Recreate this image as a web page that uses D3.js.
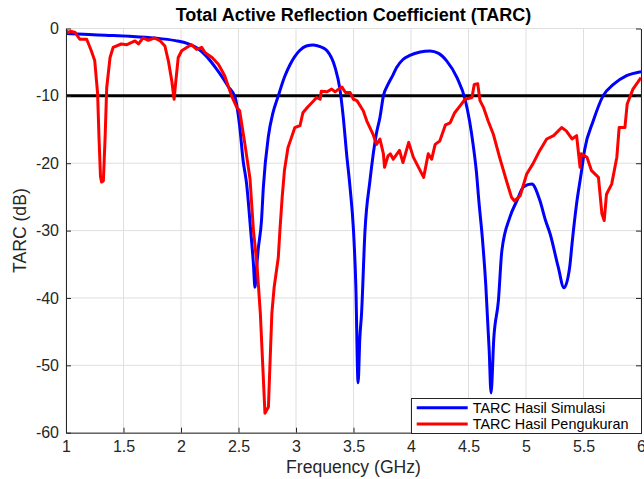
<!DOCTYPE html>
<html>
<head>
<meta charset="utf-8">
<script src="https://cdn.jsdelivr.net/npm/d3@7"></script>
<style>
  html, body { margin: 0; padding: 0; background: #fff; }
  svg { display: block; font-family: "Liberation Sans", Arial, sans-serif; }
</style>
</head>
<body>
<div id="chart"></div>
<script>
// ---------- DATA ----------
const chartTitle = "Total Active Reflection Coefficient (TARC)";
const xLabel = "Frequency (GHz)";
const yLabel = "TARC (dB)";
const seriesNames = ["TARC Hasil Simulasi", "TARC Hasil Pengukuran"];
const xTicks = [1, 1.5, 2, 2.5, 3, 3.5, 4, 4.5, 5, 5.5, 6];
const xTickLabels = ["1", "1.5", "2", "2.5", "3", "3.5", "4", "4.5", "5", "5.5", "6"];
const yTicks = [0, -10, -20, -30, -40, -50, -60];
const yTickLabels = ["0", "-10", "-20", "-30", "-40", "-50", "-60"];
const refLevel = -10;

// Simulation (blue)
const simFreq = [1.00, 1.20, 1.34, 1.55, 1.77, 1.95, 2.06, 2.15, 2.22, 2.30, 2.35, 2.41, 2.47, 2.51, 2.54, 2.57,
  2.606, 2.63, 2.643, 2.655, 2.67, 2.70, 2.716, 2.76, 2.80, 2.846, 2.90, 2.95, 3.03, 3.09, 3.15, 3.21, 3.27,
  3.34, 3.38, 3.41, 3.44, 3.47, 3.50, 3.52, 3.54, 3.555, 3.57, 3.60, 3.643, 3.70, 3.73, 3.76, 3.80, 3.846,
  3.875, 3.93, 3.99, 4.08, 4.165, 4.24, 4.31, 4.40, 4.47, 4.51, 4.54, 4.57, 4.59, 4.62, 4.65, 4.68, 4.696,
  4.72, 4.76, 4.79, 4.86, 4.92, 4.98, 5.05, 5.12, 5.17, 5.21, 5.28, 5.33, 5.38, 5.40, 5.44, 5.48, 5.51,
  5.585, 5.67, 5.76, 5.875, 6.00];
const simTarc = [-0.75, -0.9, -1.0, -1.15, -1.4, -1.8, -2.25, -3.0, -4.1, -5.8, -7.0, -8.6, -10.2, -14.5, -19.6, -23.0,
  -30, -35, -38.4, -36, -33, -28.5, -23.6, -16, -12.5, -10, -7.2, -5.3, -3.3, -2.6, -2.45, -2.7, -3.3,
  -5.8, -8.8, -13, -18.6, -23.6, -30, -38, -52.6, -46, -42.3, -30, -22.6, -15.5, -13.2, -10, -8.3, -6.8,
  -5.8, -4.6, -4.0, -3.5, -3.35, -3.7, -4.8, -7.3, -10.5, -13.8, -17.2, -21.5, -25.6, -31, -38, -47.8, -54.1,
  -46, -40.4, -33, -28, -25.6, -23.5, -23.1, -25.5, -28.5, -30.5, -35.4, -38.5, -35.4, -32, -26, -21.5, -18,
  -13.7, -10, -8.3, -7.0, -6.4];

// Measurement (red)
const measFreq = [1.00, 1.02, 1.04, 1.08, 1.12, 1.18, 1.22, 1.25, 1.275, 1.287, 1.30, 1.31, 1.325, 1.34, 1.354,
  1.383, 1.41, 1.48, 1.53, 1.60, 1.63, 1.67, 1.716, 1.77, 1.82, 1.86, 1.89, 1.92, 1.94, 1.955, 1.976, 2.006,
  2.06, 2.09, 2.136, 2.18, 2.21, 2.27, 2.325, 2.38, 2.44, 2.485, 2.51, 2.556, 2.60, 2.63, 2.66, 2.69, 2.71,
  2.73, 2.76, 2.774, 2.79, 2.81, 2.846, 2.86, 2.88, 2.90, 2.93, 2.96, 2.99, 3.035, 3.06, 3.10, 3.15, 3.18,
  3.21, 3.22, 3.27, 3.31, 3.34, 3.37, 3.40, 3.43, 3.47, 3.50, 3.53, 3.585, 3.615, 3.67, 3.70, 3.73, 3.76,
  3.77, 3.80, 3.82, 3.846, 3.90, 3.93, 3.98, 4.02, 4.11, 4.15, 4.18, 4.21, 4.25, 4.30, 4.34, 4.38, 4.43,
  4.47, 4.53, 4.55, 4.58, 4.60, 4.63, 4.67, 4.716, 4.77, 4.83, 4.875, 4.90, 4.95, 5.006, 5.06, 5.12, 5.18,
  5.24, 5.31, 5.35, 5.40, 5.44, 5.47, 5.48, 5.53, 5.57, 5.63, 5.66, 5.68, 5.70, 5.745, 5.79, 5.81, 5.86,
  5.88, 5.93, 6.00];
const measTarc = [-0.3, -0.6, -0.4, -0.6, -1.6, -1.6, -3.3, -4.8, -9.7, -16.2, -22, -22.8, -22.6, -16.2, -8.8,
  -4.3, -2.8, -2.3, -2.4, -1.85, -2.3, -1.4, -1.75, -1.4, -1.85, -2.6, -4.8, -7.8, -10.5, -7.8, -4.3, -3.3,
  -2.7, -2.4, -3.1, -2.8, -3.6, -4.3, -5.3, -7.0, -10.0, -11.7, -12.2, -17.2, -22.3, -30, -34.9, -42.3, -49.7,
  -57.1, -56.2, -49.7, -42.3, -38.4, -34.0, -30, -25, -21, -17.7, -16.2, -14.7, -14.4, -12.5, -11.7, -10.8, -10.25,
  -10.5, -9.3, -9.4, -9.0, -9.4, -9.0, -8.7, -9.5, -9.5, -10.5, -10.7, -12.2, -13.7, -15.7, -17.2, -16.4, -18.6,
  -20.6, -18.9, -18.6, -19.4, -18.1, -19.9, -16.9, -19.1, -22.1, -18.6, -19.4, -17.2, -16.7, -14.3, -14.0, -12.5, -11.4,
  -10.5, -10.25, -8.3, -8.2, -10.7, -11.7, -13.7, -15.7, -19.1, -22.6, -25.1, -25.6, -24.8, -21.6, -20.1, -18.1, -16.4,
  -15.9, -14.7, -15.2, -16.4, -15.9, -20.6, -18.6, -19.1, -21.1, -22.1, -27.5, -28.5, -24.6, -23.1, -19.1, -14.7, -14.7,
  -11.2, -9.0, -7.3];

// ---------- LAYOUT ----------
const W = 644, H = 479;
const m = { left: 66, right: 3, top: 28.5, bottom: 46.3 };
const iw = W - m.left - m.right, ih = H - m.top - m.bottom;
const axisColor = "#262626";

const svg = d3.select("#chart").append("svg").attr("width", W).attr("height", H);
const g = svg.append("g").attr("transform", `translate(${m.left},${m.top})`);

const x = d3.scaleLinear().domain([1, 6]).range([0, iw]);
const y = d3.scaleLinear().domain([-60, 0]).range([ih, 0]);

// grid
g.append("g").selectAll("line").data(xTicks).join("line")
  .attr("x1", d => x(d)).attr("x2", d => x(d)).attr("y1", 0).attr("y2", ih)
  .attr("stroke", "#dfdfdf").attr("stroke-width", 1);
g.append("g").selectAll("line").data(yTicks).join("line")
  .attr("x1", 0).attr("x2", iw).attr("y1", d => y(d)).attr("y2", d => y(d))
  .attr("stroke", "#dfdfdf").attr("stroke-width", 1);

// clip
svg.append("defs").append("clipPath").attr("id", "clip")
  .append("rect").attr("x", 0).attr("y", -2).attr("width", iw).attr("height", ih + 2);
const plot = g.append("g").attr("clip-path", "url(#clip)");

// reference line
plot.append("line").attr("x1", 0).attr("x2", iw)
  .attr("y1", y(refLevel)).attr("y2", y(refLevel))
  .attr("stroke", "#000").attr("stroke-width", 3);

const simData = simFreq.map((f, i) => [f, simTarc[i]]);
const measData = measFreq.map((f, i) => [f, measTarc[i]]);

const lineSmooth = d3.line().x(d => x(d[0])).y(d => y(d[1])).curve(d3.curveMonotoneX);
const lineRaw = d3.line().x(d => x(d[0])).y(d => y(d[1])).curve(d3.curveLinear);

plot.append("path").datum(simData).attr("d", lineSmooth)
  .attr("fill", "none").attr("stroke", "#0000ff").attr("stroke-width", 3).attr("stroke-linejoin", "round");
plot.append("path").datum(measData).attr("d", lineRaw)
  .attr("fill", "none").attr("stroke", "#ff0000").attr("stroke-width", 3).attr("stroke-linejoin", "round");

// axes
const xAxis = d3.axisBottom(x).tickValues(xTicks).tickFormat((d, i) => xTickLabels[i])
  .tickSizeInner(-5).tickSizeOuter(0).tickPadding(7);
const yAxis = d3.axisLeft(y).tickValues(yTicks).tickFormat((d, i) => yTickLabels[i])
  .tickSizeInner(-5).tickSizeOuter(0).tickPadding(7);
const yAxisR = d3.axisRight(y).tickValues(yTicks).tickFormat("")
  .tickSizeInner(-5).tickSizeOuter(0);

function styleAxis(sel) {
  sel.select(".domain").attr("stroke", axisColor).attr("stroke-width", 1);
  sel.selectAll(".tick line").attr("stroke", axisColor);
  sel.selectAll(".tick text").attr("fill", axisColor).style("font-size", "16px")
    .style("font-family", "'Liberation Sans', Arial, sans-serif");
}
g.append("g").attr("transform", `translate(0,${ih})`).call(xAxis).call(styleAxis)
  .selectAll(".tick text").attr("dy", "0.75em");
g.append("g").call(yAxis).call(styleAxis);
g.append("g").attr("transform", `translate(${iw},0)`).call(yAxisR).call(styleAxis);

// title & labels
svg.append("text").attr("x", m.left + iw / 2).attr("y", 21).attr("text-anchor", "middle")
  .style("font-size", "18px").style("font-weight", "bold").attr("fill", "#000").text(chartTitle);
svg.append("text").attr("x", m.left + iw / 2).attr("y", 473).attr("text-anchor", "middle")
  .style("font-size", "17.6px").attr("fill", axisColor).text(xLabel);
svg.append("text").attr("transform", `translate(26,${m.top + ih / 2}) rotate(-90)`)
  .attr("text-anchor", "middle").style("font-size", "17.6px").attr("fill", axisColor).text(yLabel);

// legend
const lg = svg.append("g");
lg.append("rect").attr("x", 411.5).attr("y", 398.5).attr("width", 230).attr("height", 35)
  .attr("fill", "#fff").attr("stroke", axisColor).attr("stroke-width", 1);
const legColors = ["#0000ff", "#ff0000"];
seriesNames.forEach((name, i) => {
  const ly = 407.7 + i * 16.3;
  lg.append("line").attr("x1", 416.7).attr("x2", 467.7).attr("y1", ly).attr("y2", ly)
    .attr("stroke", legColors[i]).attr("stroke-width", 3);
  lg.append("text").attr("x", 472.7).attr("y", ly).attr("dy", "0.35em")
    .style("font-size", "14.4px").attr("fill", "#000").text(name);
});
</script>
</body>
</html>
